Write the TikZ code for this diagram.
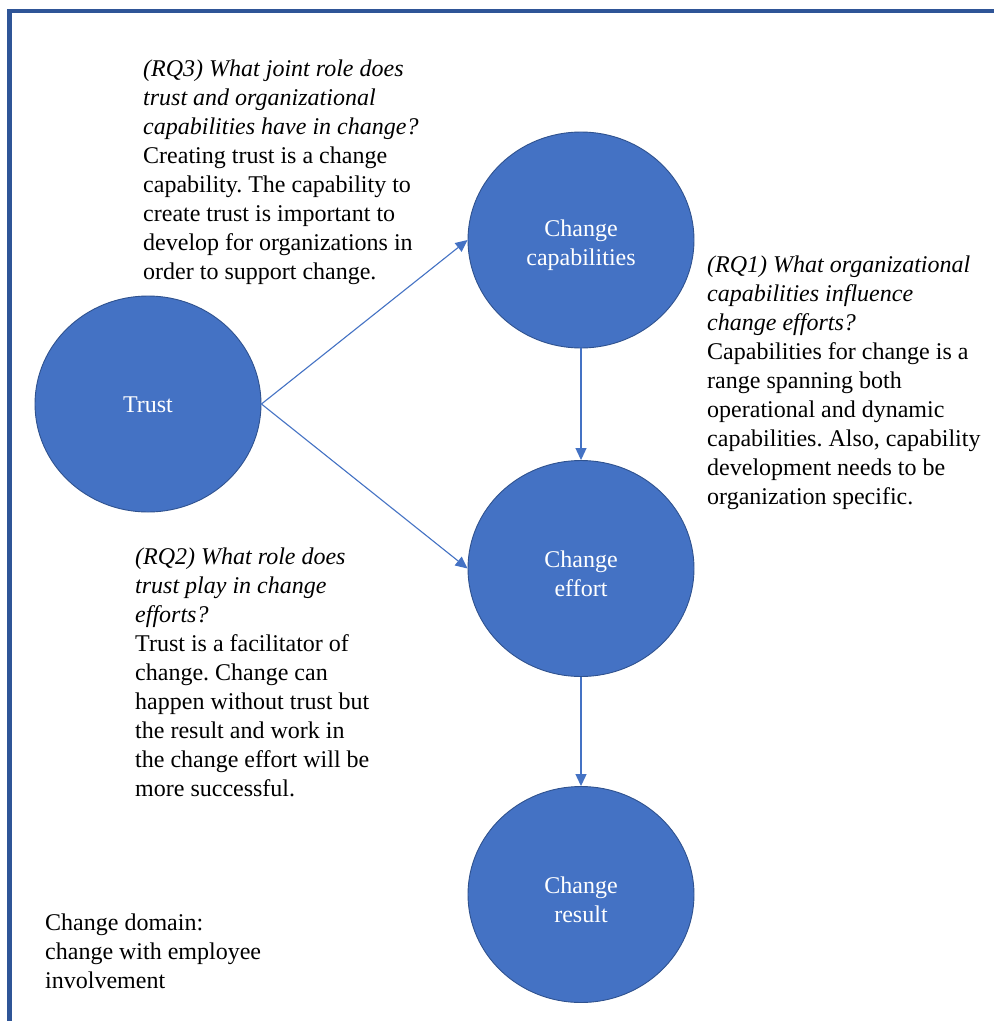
\documentclass[tikz,border=0pt]{standalone}
\usepackage{fontspec}
\setmainfont{Liberation Serif}
\frenchspacing
\usetikzlibrary{arrows.meta,shapes.geometric}
\definecolor{cfill}{HTML}{4472C4}
\definecolor{cline}{HTML}{2F528F}
\definecolor{frame}{HTML}{2F5597}
\definecolor{arr}{HTML}{4472C4}
\tikzset{
  bubble/.style={ellipse, fill=cfill, draw=cline, line width=0.9pt, minimum width=226pt, minimum height=216pt, inner sep=0pt},
  bubtext/.style={inner sep=0pt, text=white, align=center, font=\fontsize{24}{29}\selectfont},
  para/.style={anchor=base west, inner sep=0pt, align=left, font=\fontsize{24}{29}\selectfont},
  link/.style={draw=arr, line width=1.1pt, -{Triangle[length=12pt,width=11pt]}}
}
\begin{document}
\begin{tikzpicture}[x=1pt,y=-1pt]
\useasboundingbox (0,0) rectangle (994,1021);
\fill[white] (0,0) rectangle (994,1021);
\draw[frame, line width=4.5pt] (9.5,1021) -- (9.5,11) -- (994,11);

\node[bubble] (trust) at (148,404) {};
\node[bubble] (cap) at (581,240) {};
\node[bubble] (eff) at (581,568.5) {};
\node[bubble] (res) at (581,894.5) {};
\node[bubtext] (trustt) at ([yshift=-1pt]trust.center) {Trust};
\node[bubtext] (capt) at ([yshift=-5pt]cap.center) {Change\\capabilities};
\node[bubtext] (efft) at ([yshift=-5pt]eff.center) {Change\\effort};
\node[bubtext] (rest) at ([yshift=-5pt]res.center) {Change\\result};

\draw[link] (trust.east) -- (cap.west);
\draw[link] (trust.east) -- (eff.west);
\draw[link] (cap.south) -- (eff.north);
\draw[link] (eff.south) -- (res.north);

\node[para] (rq3) at (143,279) {\textit{(RQ3) What joint role does}\\\textit{trust and organizational}\\\textit{capabilities have in change?}\\Creating trust is a change\\capability. The capability to\\create trust is important to\\develop for organizations in\\order to support change.};

\node[para] (rq1) at (707,504) {\textit{(RQ1) What organizational}\\\textit{capabilities influence}\\\textit{change efforts?}\\Capabilities for change is a\\range spanning both\\operational and dynamic\\capabilities. Also, capability\\development needs to be\\organization specific.};

\node[para] (rq2) at (135,796) {\textit{(RQ2) What role does}\\\textit{trust play in change}\\\textit{efforts?}\\Trust is a facilitator of\\change. Change can\\happen without trust but\\the result and work in\\the change effort will be\\more successful.};

\node[para] (dom) at (45,988) {Change domain:\\change with employee\\involvement};
\end{tikzpicture}
\end{document}
